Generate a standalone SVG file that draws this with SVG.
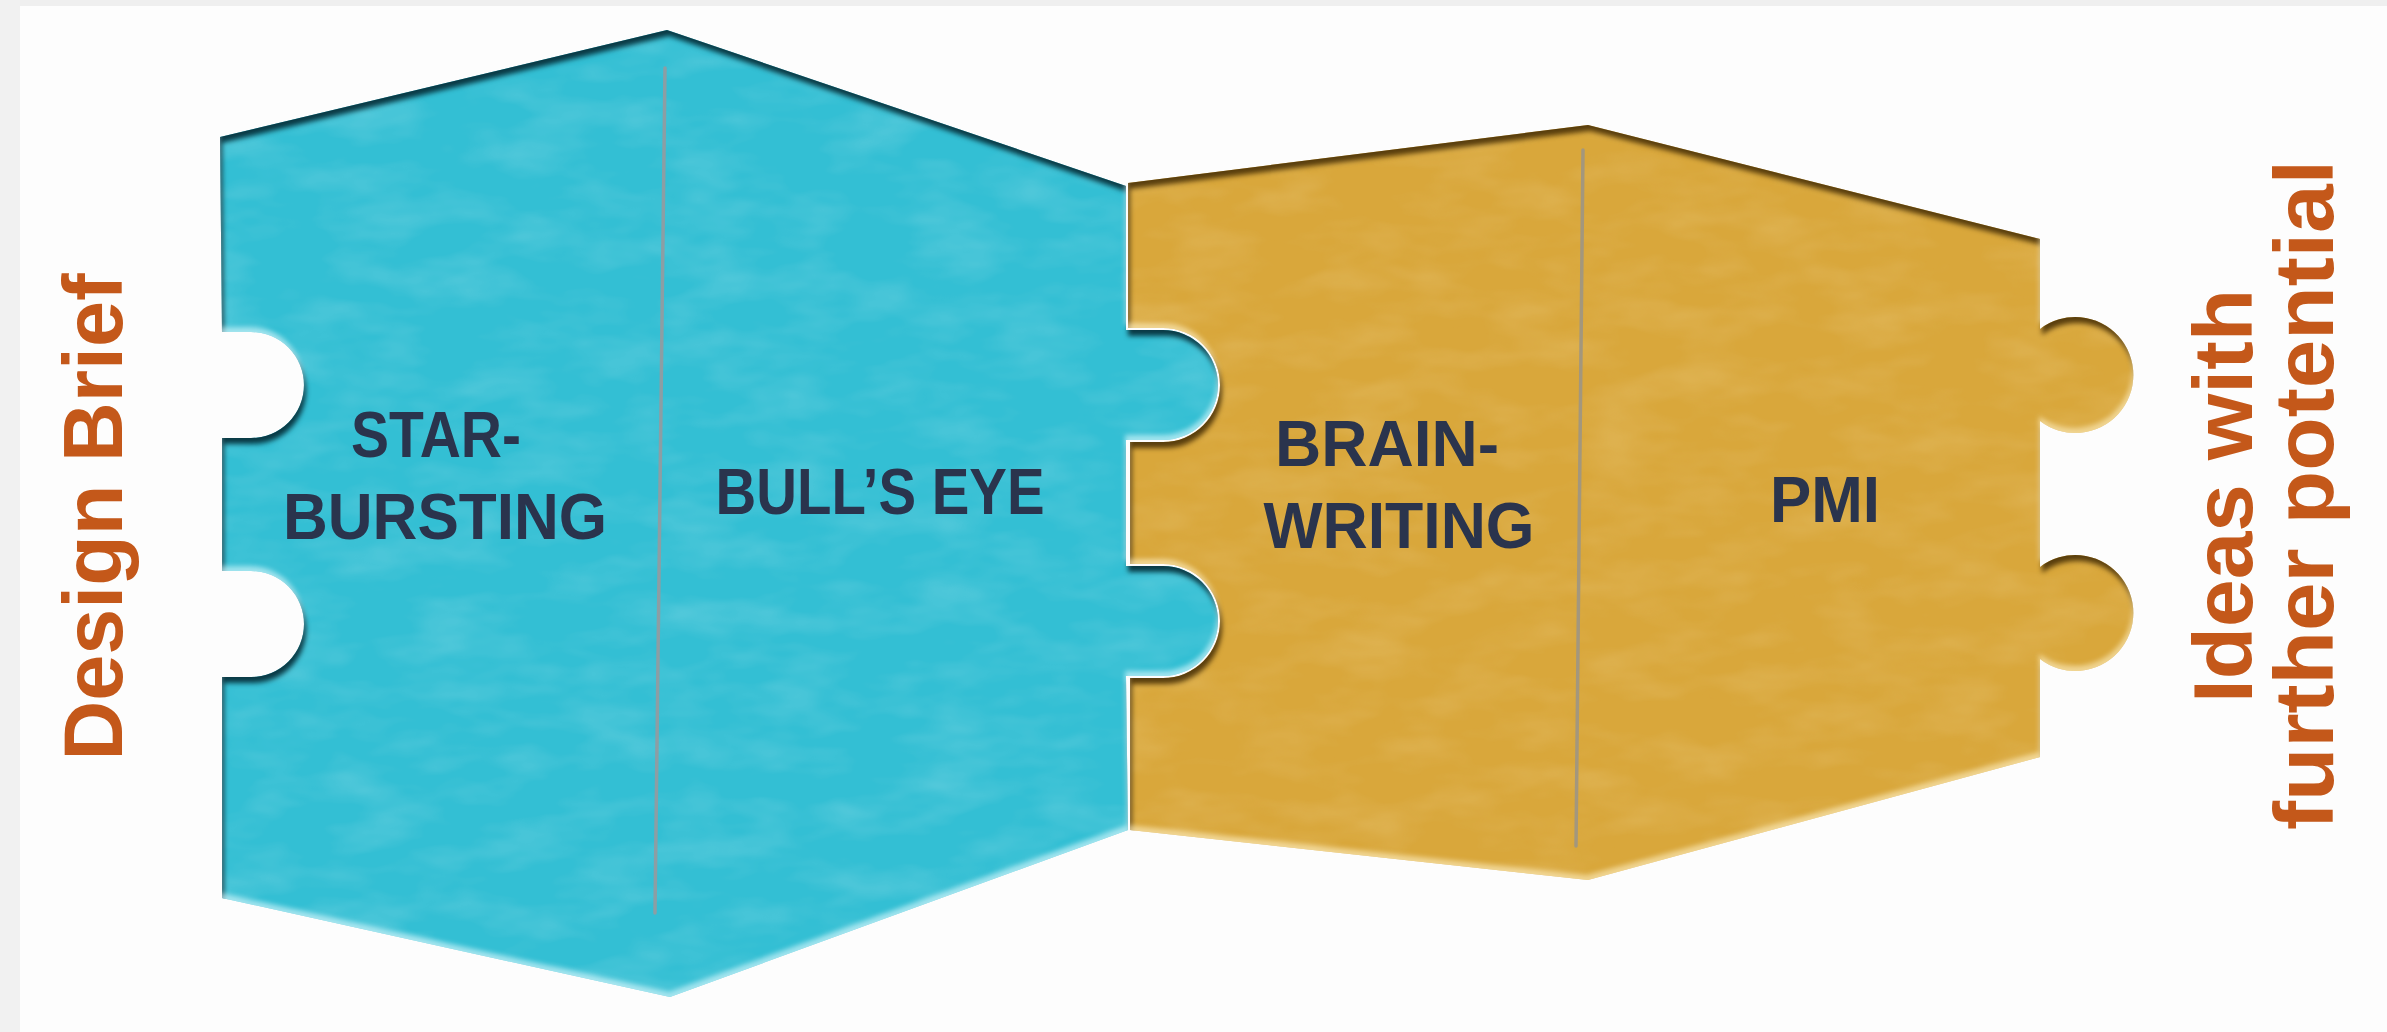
<svg xmlns="http://www.w3.org/2000/svg" width="2387" height="1032" viewBox="0 0 2387 1032">
<style>
.lbl{font-family:"Liberation Sans",Arial,sans-serif;font-weight:700;fill:#2a344d;text-anchor:middle;font-size:64px}
.side{font-family:"Liberation Sans",Arial,sans-serif;font-weight:700;fill:#c4581a;text-anchor:middle;font-size:84px}
.seam{fill:none;stroke-width:3.5;stroke-linecap:round}
</style>
<defs>
<filter id="fxBlue" x="-4%" y="-4%" width="108%" height="108%" color-interpolation-filters="sRGB">
  <feComponentTransfer in="SourceAlpha" result="inv"><feFuncA type="table" tableValues="1 0"/></feComponentTransfer>
  <feOffset in="inv" dx="2" dy="6" result="o1"/>
  <feGaussianBlur in="o1" stdDeviation="2.5" result="b1"/>
  <feFlood flood-color="#07333d" flood-opacity="0.95" result="c1"/>
  <feComposite in="c1" in2="b1" operator="in" result="s1"/>
  <feComposite in="s1" in2="SourceAlpha" operator="in" result="dark"/>
  <feOffset in="inv" dx="-1" dy="-5" result="o2"/>
  <feGaussianBlur in="o2" stdDeviation="2.5" result="b2"/>
  <feFlood flood-color="#e8fbff" flood-opacity="0.6" result="c2"/>
  <feComposite in="c2" in2="b2" operator="in" result="s2"/>
  <feComposite in="s2" in2="SourceAlpha" operator="in" result="light"/>
  <feTurbulence type="fractalNoise" baseFrequency="0.012 0.03" numOctaves="3" seed="4" result="noise"/>
  <feColorMatrix in="noise" type="matrix" values="0 0 0 0 1  0 0 0 0 1  0 0 0 0 1  0.3 0 0 0 -0.12" result="nz"/>
  <feComposite in="nz" in2="SourceAlpha" operator="in" result="tex"/>
  <feMerge><feMergeNode in="SourceGraphic"/><feMergeNode in="tex"/><feMergeNode in="dark"/><feMergeNode in="light"/></feMerge>
</filter>
<filter id="fxGold" x="-4%" y="-4%" width="108%" height="108%" color-interpolation-filters="sRGB">
  <feComponentTransfer in="SourceAlpha" result="inv"><feFuncA type="table" tableValues="1 0"/></feComponentTransfer>
  <feOffset in="inv" dx="2" dy="6" result="o1"/>
  <feGaussianBlur in="o1" stdDeviation="2.5" result="b1"/>
  <feFlood flood-color="#4a3208" flood-opacity="0.9" result="c1"/>
  <feComposite in="c1" in2="b1" operator="in" result="s1"/>
  <feComposite in="s1" in2="SourceAlpha" operator="in" result="dark"/>
  <feOffset in="inv" dx="-1" dy="-5" result="o2"/>
  <feGaussianBlur in="o2" stdDeviation="2.5" result="b2"/>
  <feFlood flood-color="#fff2c8" flood-opacity="0.6" result="c2"/>
  <feComposite in="c2" in2="b2" operator="in" result="s2"/>
  <feComposite in="s2" in2="SourceAlpha" operator="in" result="light"/>
  <feTurbulence type="fractalNoise" baseFrequency="0.012 0.03" numOctaves="3" seed="9" result="noise"/>
  <feColorMatrix in="noise" type="matrix" values="0 0 0 0 1  0 0 0 0 0.95  0 0 0 0 0.8  0.3 0 0 0 -0.12" result="nz"/>
  <feComposite in="nz" in2="SourceAlpha" operator="in" result="tex"/>
  <feMerge><feMergeNode in="SourceGraphic"/><feMergeNode in="tex"/><feMergeNode in="dark"/><feMergeNode in="light"/></feMerge>
</filter>
</defs>

<rect x="0" y="0" width="2387" height="1032" fill="#fdfdfd"/>
<rect x="0" y="0" width="2387" height="6" fill="#efefef"/>
<rect x="0" y="0" width="20" height="1032" fill="#f1f1f1"/>

<g id="piece-gold">
  <path filter="url(#fxGold)" fill="#d9a73b" d="M1128,183 L1588,125 L2040,239 L2040,329 A58,58 0 1 1 2040,421 L2040,567 A58,58 0 1 1 2040,659 L2040,757 L1588,880 L1130,830 L1130,678 L1163,678 A57,57 0 0 0 1163,564 L1130,564 L1130,442 L1163,442 A57,57 0 0 0 1163,328 L1128,328 Z"/>
  <path class="seam" stroke="#a3977d" d="M1583,150 L1576,846"/>
</g>

<g id="piece-blue">
  <path filter="url(#fxBlue)" fill="#33bfd4" d="M220,137 L667,30 L1126,186 L1126,330 L1163,330 A55,55 0 0 1 1163,440 L1126,440 L1126,566 L1163,566 A55,55 0 0 1 1163,676 L1126,676 L1128,830 L670,997 L222,898 L222,677 L251,677 A53,53 0 0 0 251,571 L222,571 L222,438 L251,438 A53,53 0 0 0 251,332 L222,332 Z"/>
  <path class="seam" stroke="#8c9ea4" d="M665,68 L655,913"/>
</g>

<g id="label-starbursting">
  <text class="lbl" x="436" y="457" textLength="170" lengthAdjust="spacingAndGlyphs">STAR-</text>
  <text class="lbl" x="445" y="539" textLength="324" lengthAdjust="spacingAndGlyphs">BURSTING</text>
</g>
<g id="label-bullseye">
  <text class="lbl" x="880" y="514" textLength="329" lengthAdjust="spacingAndGlyphs">BULL’S EYE</text>
</g>
<g id="label-brainwriting">
  <text class="lbl" x="1387" y="466" textLength="224" lengthAdjust="spacingAndGlyphs">BRAIN-</text>
  <text class="lbl" x="1399" y="548" textLength="271" lengthAdjust="spacingAndGlyphs">WRITING</text>
</g>
<g id="label-pmi">
  <text class="lbl" x="1825" y="522" textLength="110" lengthAdjust="spacingAndGlyphs">PMI</text>
</g>

<g id="input-design-brief">
  <text class="side" transform="translate(122,517) rotate(-90)" textLength="487" lengthAdjust="spacingAndGlyphs">Design Brief</text>
</g>
<g id="output-ideas">
  <text class="side" transform="translate(2252,496) rotate(-90)" textLength="414" lengthAdjust="spacingAndGlyphs">Ideas with</text>
  <text class="side" transform="translate(2333,495) rotate(-90)" textLength="670" lengthAdjust="spacingAndGlyphs">further potential</text>
</g>
<g id="connectors"></g>
</svg>
